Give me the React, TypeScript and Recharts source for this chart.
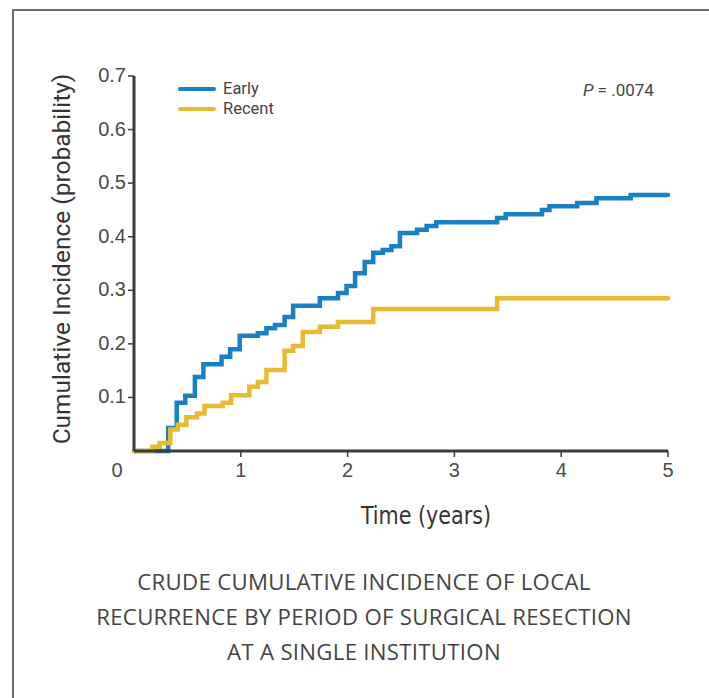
import React from "react";
import { LineChart, Line, XAxis, YAxis } from "recharts";

// step points (years, probability)
const earlyYears = [0, 0.32, 0.4, 0.48, 0.57, 0.65, 0.82, 0.9, 0.99, 1.16, 1.24, 1.32, 1.41, 1.49, 1.74, 1.91, 1.99, 2.07, 2.16, 2.24, 2.33, 2.41, 2.49, 2.65, 2.74, 2.83, 3.4, 3.48, 3.82, 3.89, 4.15, 4.33, 4.65, 5.0];
const earlyValues = [0, 0.043, 0.09, 0.103, 0.138, 0.162, 0.176, 0.19, 0.215, 0.22, 0.229, 0.235, 0.25, 0.271, 0.285, 0.295, 0.308, 0.332, 0.353, 0.37, 0.375, 0.382, 0.407, 0.413, 0.42, 0.427, 0.435, 0.442, 0.45, 0.457, 0.463, 0.472, 0.478, 0.478];

const recentYears = [0, 0.17, 0.24, 0.34, 0.41, 0.49, 0.59, 0.66, 0.83, 0.91, 1.08, 1.16, 1.24, 1.41, 1.49, 1.58, 1.74, 1.91, 2.24, 3.4, 5.0];
const recentValues = [0, 0.008, 0.015, 0.04, 0.049, 0.063, 0.07, 0.084, 0.09, 0.104, 0.12, 0.129, 0.151, 0.187, 0.196, 0.222, 0.232, 0.241, 0.265, 0.285, 0.285];

const xTicks = [0, 1, 2, 3, 4, 5];
const yTicks = [0.1, 0.2, 0.3, 0.4, 0.5, 0.6, 0.7];
const seriesNames = ["Early", "Recent"];
const captionLines = [
  "CRUDE CUMULATIVE INCIDENCE OF LOCAL",
  "RECURRENCE BY PERIOD OF SURGICAL RESECTION",
  "AT A SINGLE INSTITUTION",
];

const BLUE = "#1a80c6";
const GOLD = "#e9ba2f";
const AXIS = "#3b3b3b";
const tickFont = "Roboto, 'Liberation Sans', sans-serif";
const numFont = "'Liberation Sans', Arial, sans-serif";

const early = earlyYears.map((t, i) => ({ t, v: earlyValues[i] }));
const recent = recentYears.map((t, i) => ({ t, v: recentValues[i] }));

const XTick = (props: any) => {
  const { x, y, payload } = props;
  const v = payload.value;
  return (
    <g>
      {v !== 0 && <line x1={x} x2={x} y1={y - 14} y2={y - 8} stroke={AXIS} strokeWidth={1.5} />}
      <text
        x={v === 0 ? x - 17 : x}
        y={y + 12}
        textAnchor="middle"
        fill="#4a4a4a"
        fontFamily={numFont}
        fontSize={20}
      >
        {String(v)}
      </text>
    </g>
  );
};

const YTick = (props: any) => {
  const { x, y, payload } = props;
  return (
    <text x={x} y={y + 6} textAnchor="end" fill="#4a4a4a" fontFamily={numFont} fontSize={20}>
      {Number(payload.value).toFixed(1)}
    </text>
  );
};

export default function App() {
  return (
    <div
      style={{
        position: "absolute",
        left: 0,
        top: 0,
        width: 709,
        height: 698,
        background: "#fff",
        overflow: "hidden",
      }}
    >
      <div
        style={{
          position: "absolute",
          left: 12,
          top: 9,
          width: 720,
          height: 720,
          borderLeft: "2.5px solid #6e6e6e",
          borderTop: "2.5px solid #6e6e6e",
        }}
      />
      <div style={{ position: "absolute", left: 0, top: 0 }}>
        <LineChart width={709} height={698} margin={{ top: 76, right: 41, bottom: 217, left: 74 }}>
          <XAxis
            type="number"
            dataKey="t"
            domain={[0, 5]}
            ticks={xTicks}
            height={30}
            tickLine={false}
            tickSize={6}
            tickMargin={8}
            axisLine={{ stroke: AXIS, strokeWidth: 3 }}
            tick={XTick}
            allowDuplicatedCategory={false}
          />
          <YAxis
            type="number"
            domain={[0, 0.7]}
            ticks={yTicks}
            width={60}
            tickSize={6}
            tickMargin={2}
            axisLine={{ stroke: AXIS, strokeWidth: 3 }}
            tickLine={{ stroke: AXIS, strokeWidth: 1.5 }}
            tick={YTick}
          />
          <Line
            data={early}
            dataKey="v"
            name="Early"
            type="stepAfter"
            stroke={BLUE}
            strokeWidth={4.5}
            strokeLinecap="round"
            dot={false}
            isAnimationActive={false}
          />
          <Line
            data={recent}
            dataKey="v"
            name="Recent"
            type="stepAfter"
            stroke={GOLD}
            strokeWidth={4.5}
            strokeLinecap="round"
            dot={false}
            isAnimationActive={false}
          />
        </LineChart>
      </div>
      <div
        style={{
          position: "absolute",
          left: 178,
          top: 79,
          fontFamily: tickFont,
          fontSize: 16.5,
          color: "#444",
          lineHeight: "20px",
        }}
      >
        {seriesNames.map((name, i) => (
          <div key={name} style={{ display: "flex", alignItems: "center" }}>
            <span
              style={{
                display: "inline-block",
                width: 38,
                height: 4.5,
                borderRadius: 2,
                background: i === 0 ? BLUE : GOLD,
                marginRight: 7,
              }}
            />
            {name}
          </div>
        ))}
      </div>
      <div
        style={{
          position: "absolute",
          left: 61,
          top: 259,
          transform: "translate(-50%, -50%) rotate(-90deg)",
          whiteSpace: "nowrap",
          fontFamily: tickFont,
          fontSize: 24.5,
          color: "#333",
        }}
      >
        Cumulative Incidence (probability)
      </div>
      <div
        style={{
          position: "absolute",
          left: 426,
          top: 515,
          transform: "translate(-50%, -50%) scaleY(1.1)",
          whiteSpace: "nowrap",
          fontFamily: "'Liberation Sans Narrow', 'DejaVu Sans Condensed', sans-serif",
          fontSize: 23,
          color: "#333",
        }}
      >
        Time (years)
      </div>
      <div
        style={{
          position: "absolute",
          left: 583,
          top: 80,
          whiteSpace: "nowrap",
          fontFamily: tickFont,
          fontSize: 17,
          color: "#444",
        }}
      >
        <i>P</i> = .0074
      </div>
      <div
        style={{
          position: "absolute",
          left: 64,
          width: 600,
          top: 564,
          textAlign: "center",
          fontFamily: "'Open Sans', sans-serif",
          fontSize: 22.2,
          lineHeight: "35px",
          color: "#444",
          letterSpacing: 0.3,
        }}
      >
        {captionLines.map((l) => (
          <div key={l}>{l}</div>
        ))}
      </div>
    </div>
  );
}
